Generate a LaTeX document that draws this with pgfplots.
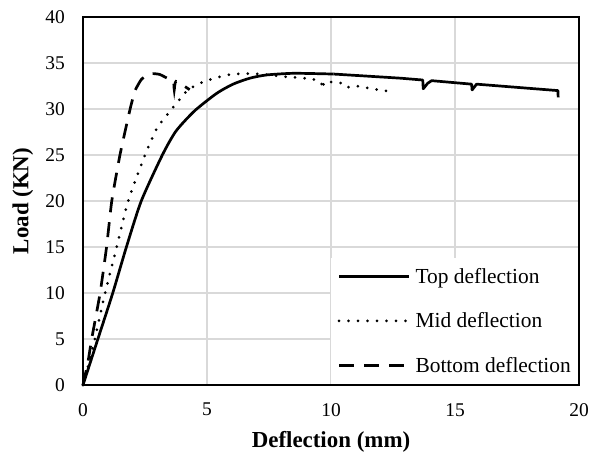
\documentclass[border=0pt]{standalone}
\usepackage{pgfplots}
\pgfplotsset{compat=1.18}
\usepackage{fontspec}
\setmainfont{Liberation Serif}
\definecolor{gridgray}{RGB}{217,217,217}
\begin{document}
\begin{tikzpicture}
\begin{axis}[
  name=ax,
  scale only axis,
  width=496bp, height=368bp,
  xmin=0, xmax=20, ymin=0, ymax=40,
  xtick={0,5,...,20}, ytick={0,5,...,40},
  major tick length=0pt,
  grid=major,
  major grid style={draw=gridgray, line width=1.3bp},
  axis line style={line width=1.5bp, black},
  /pgf/number format/assume math mode=true,
  tick label style={font=\fontsize{19.5}{21}\selectfont, inner sep=0pt},
  xticklabel shift=18bp,
  yticklabel shift=18bp,
  xlabel={\textbf{Deflection (mm)}},
  ylabel={\textbf{Load (KN)}},
  xlabel style={font=\fontsize{23}{25}\selectfont, at={(axis description cs:0.5,-0.1685)}, anchor=base, inner sep=0pt},
  ylabel style={font=\fontsize{23}{25}\selectfont, at={(axis description cs:-0.121,0.5)}, anchor=center, inner sep=0pt},
  legend style={at={(rel axis cs:1,0)}, xshift=-1bp, yshift=1bp, anchor=south east, draw=none, fill=white,
    font=\fontsize{21.5}{23}\selectfont, inner xsep=7bp, inner ysep=10bp, row sep=28bp,
    /tikz/every odd column/.append style={column sep=5bp},
    nodes={inner sep=0pt, anchor=west}},
  legend cell align=left,
  legend image code/.code={\draw[#1] (0bp,0bp) -- (70bp,0bp);},
  clip=false,
]
\addplot[black, line width=2.7bp, forget plot] coordinates {(0,0) (9.9,0)};
\addplot[black, line width=2.7bp, smooth, tension=0.4] coordinates {
(0,0) (0.6,5) (1.2,10) (1.75,15) (2.35,20) (3.2,25) (3.75,27.6) (4.5,29.8)
(5.39,31.7) (6.05,32.7) (6.73,33.35) (7.4,33.7) (8.5,33.88) (10.1,33.8)};
\addlegendentry{Top deflection}
\addplot[black, line width=2.7bp, line join=round, forget plot] coordinates {
(10.1,33.8) (12.8,33.35)
(13.7,33.15) (13.72,32.2) (13.9,32.8) (14.06,33.08) (15.67,32.7) (15.69,32.07) (15.87,32.7)
(19.15,32.0) (19.16,31.27)};
\addplot[black, line width=3bp, line cap=round, dash pattern=on 0bp off 9.5bp, smooth, tension=0.3] coordinates {
(0,0) (0.3,3) (0.48,5) (0.89,10) (1.36,15) (1.82,20) (2.5,25) (3.0,28) (3.58,30) (4.2,32)
(4.72,32.8) (5.24,33.3) (5.93,33.75) (6.53,33.85) (7.2,33.8) (8.15,33.5) (8.75,33.4) (9.42,33.15)
(9.62,32.8) (9.62,32.2) (9.76,33.0) (10.08,32.9) (10.43,32.8) (10.63,32.35) (11.03,32.5)
(11.64,32.2) (12.24,31.96)};
\addlegendentry{Mid deflection}
\addplot[black, line width=2.7bp, dash pattern=on 15bp off 10bp, smooth, tension=0.3] coordinates {
(0,0) (0.2,2.5) (0.35,5) (0.69,10) (0.95,15) (1.16,20) (1.49,25) (1.9,30) (2.1,32) (2.35,33.2)
(2.6,33.7) (2.8,33.85) (3.1,33.75) (3.5,33.2) (3.65,33.0) (3.68,32.1) (3.75,33.0) (4.3,32.1)};
\addlegendentry{Bottom deflection}
\end{axis}
\path ([xshift=-83bp,yshift=-68bp]ax.south west) rectangle ([xshift=21bp,yshift=17bp]ax.north east);
\end{tikzpicture}
\end{document}
